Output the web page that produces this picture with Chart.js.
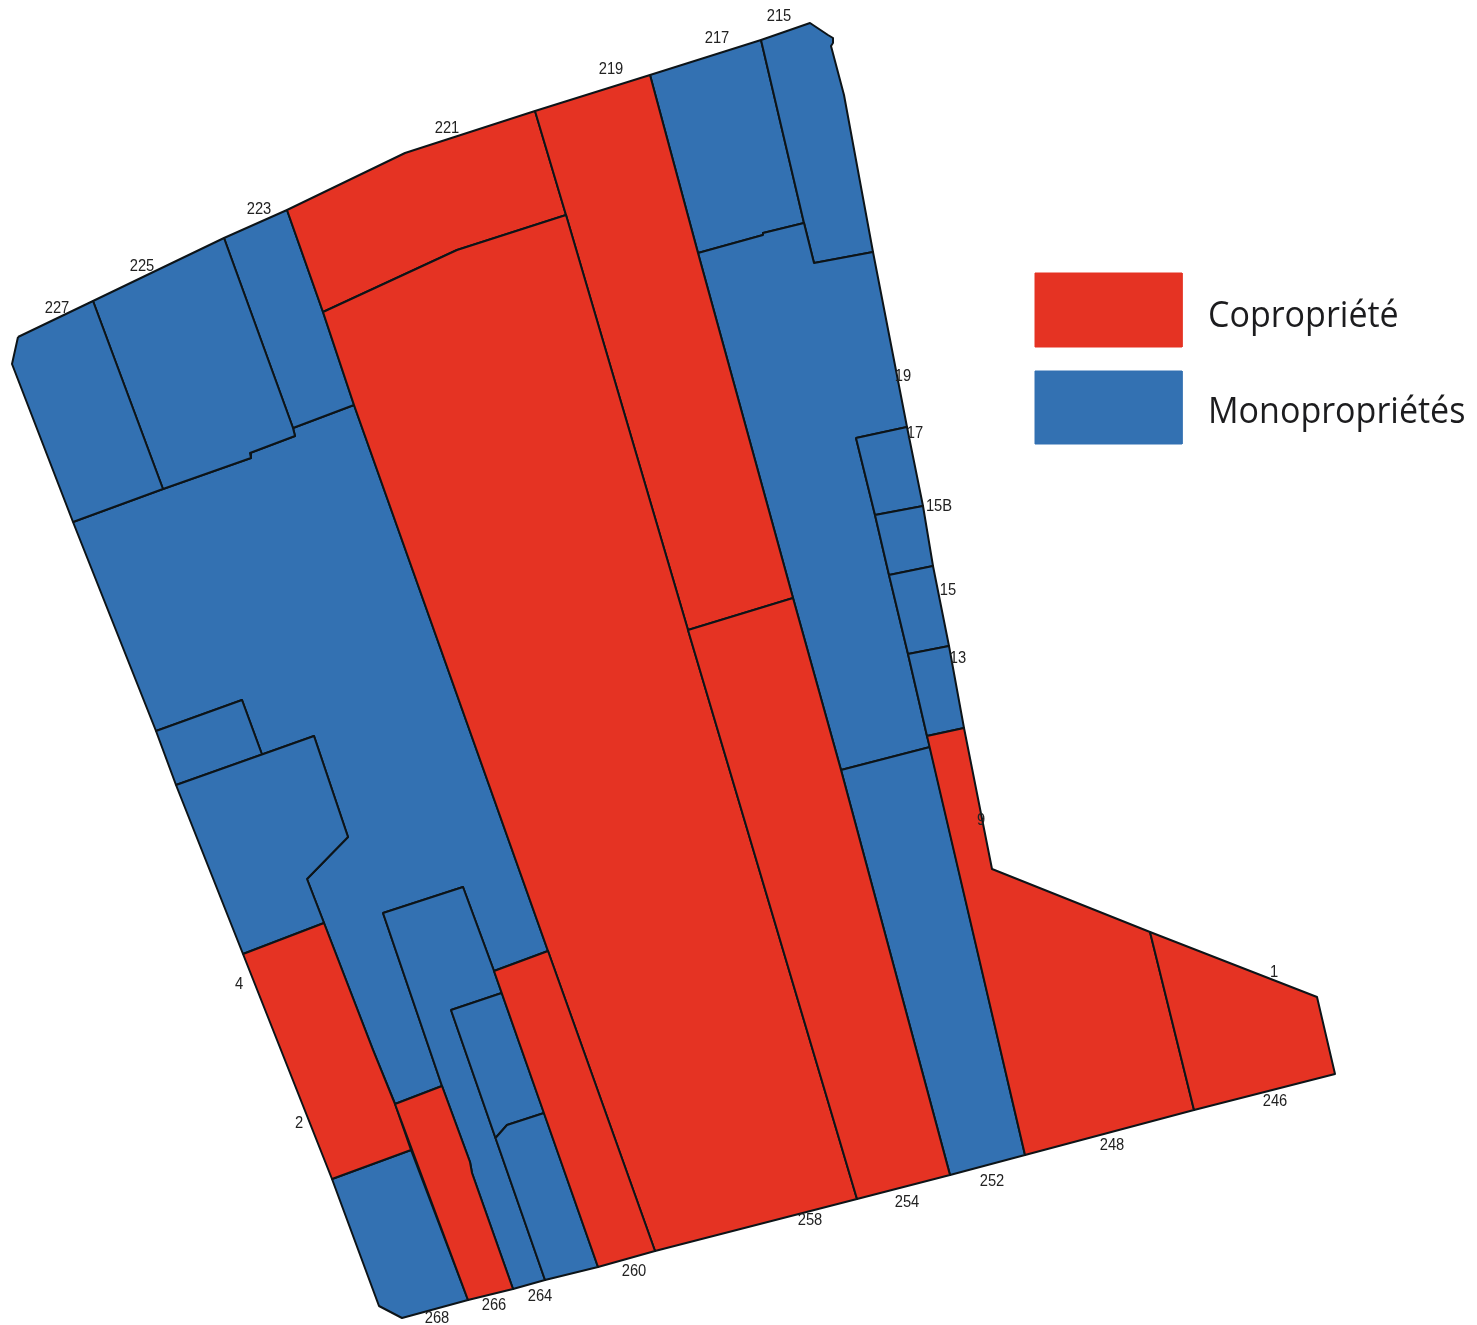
<!DOCTYPE html>
<html lang="fr">
<head>
<meta charset="utf-8">
<title>Copropriété et monopropriétés</title>
<script src="https://cdn.jsdelivr.net/npm/chart.js@4"></script>
<style>
html,body{margin:0;padding:0;background:#fff;overflow:hidden}
canvas{display:block}
</style>
</head>
<body>
<canvas id="map" width="1477" height="1325"></canvas>
<script>
// Parcels, in map units; tenure: C = copropriété, M = monopropriétés
const p215 = [[761,40],[810,23],[828,35],[833,38],[833,43],[831,46],[844,95],[873,252],[814,263],[804,223]];
const p217 = [[650,75],[761,40],[804,223],[763,233],[763,235],[698,253]];
const p219 = [[535,111],[650,75],[698,253],[793,598],[688,630],[566,215]];
const p221 = [[287,210],[405,153],[535,111],[566,215],[457,250],[323,312]];
const p223 = [[224,238],[287,210],[323,312],[354,405],[293,428]];
const p225 = [[93,301],[224,238],[293,428],[295,436],[250,453],[251,458],[163,489]];
const p227 = [[18,337],[93,301],[163,489],[73,522],[12,364]];
const p258 = [[323,312],[457,250],[566,215],[688,630],[857,1199],[655,1251],[548,951],[354,405]];
const p254 = [[688,630],[793,598],[841,770],[950,1175],[857,1199]];
const p19  = [[698,253],[763,235],[763,233],[804,223],[814,263],[873,252],[907,427],[856,438],[875,515],[889,575],[908,654],[927,736],[930,747],[841,770],[793,598]];
const p17  = [[856,438],[907,427],[923,506],[875,515]];
const p15B = [[875,515],[923,506],[933,566],[889,575]];
const p15  = [[889,575],[933,566],[949,646],[908,654]];
const p13  = [[908,654],[949,646],[964,728],[927,736]];
const p252 = [[841,770],[930,747],[1025,1155],[950,1175]];
const p248 = [[927,736],[964,728],[992,869],[1150,932],[1194,1110],[1025,1155]];
const p246 = [[1150,932],[1317,997],[1335,1074],[1194,1110]];
const pMain = [[73,522],[163,489],[251,458],[250,453],[295,436],[293,428],[354,405],[548,951],[494,971],[463,887],[383,913],[442,1086],[395,1104],[373,1050],[324,923],[307,879],[348,837],[314,736],[262,754.5],[242,700],[156,731]];
const pSmall = [[156,731],[242,700],[262,754.5],[176,785]];
const pYard = [[176,785],[314,736],[348,837],[307,879],[324,923],[243,954]];
const p4 = [[243,954],[324,923],[373,1050],[395,1104],[411,1150],[332,1179]];
const p268 = [[332,1179],[411,1150],[468,1300],[402,1318],[379,1306]];
const p266 = [[395,1104],[442,1086],[470,1162],[472,1173],[513,1289],[468,1300]];
const p264a = [[383,913],[463,887],[494,971],[501.7,993],[451,1010],[495.5,1138],[545,1280],[513,1289],[472,1173],[470,1162],[442,1086]];
const p264b = [[451,1010],[501.7,993],[544,1113],[507,1125],[495.5,1138]];
const p264c = [[495.5,1138],[507,1125],[544,1113],[598,1267],[545,1280]];
const p260 = [[494,971],[548,951],[655,1251],[598,1267]];

const parcelList = [pMain,pSmall,pYard,p223,p225,p227,p217,p215,p19,p17,p15B,p15,p13,p252,p268,p264a,p264b,p264c,
                    p221,p219,p258,p254,p248,p246,p4,p266,p260];
const parcelTenure = ['M','M','M','M','M','M','M','M','M','M','M','M','M','M','M','M','M','M',
                      'C','C','C','C','C','C','C','C','C'];

// House numbers
const numberTexts = ['215','217','219','221','223','225','227','19','17','15B','15','13','9','1','246','248','252','254','258','260','264','266','268','4','2'];
const numberX = [779,717,611,447,259,142,57,903,915,939,948,958,981,1274,1275,1112,992,907,810,634,540,494,437,239,299];
const numberY = [17,39,70,129,210,267,309,377,434,507,591,659,821,973,1102,1146,1182,1203,1221,1272,1297,1306,1319,985,1124];

// Legend
const legendNames = ['Copropriété','Monopropriétés'];
const legendTenure = ['C','M'];
const legendBoxes = [[[1035,273],[1182,273],[1182,347],[1035,347]],[[1035,371],[1182,371],[1182,444],[1035,444]]];
const legendTextAnchor = [[1208,317],[1208,413]];

const tenureColor = {C:'#E53323', M:'#3371B2'};

const toPoints = poly => poly.concat([poly[0]]).map(([x,y]) => ({x,y}));

const datasets = parcelList.map((poly,i) => ({
  data: toPoints(poly), showLine:true, fill:'shape', tension:0, order: parcelList.length - i,
  backgroundColor: tenureColor[parcelTenure[i]], borderColor:'#0d1418', borderWidth:2,
  borderJoinStyle:'round', pointRadius:0, pointHoverRadius:0
}));
legendBoxes.forEach((poly,i) => datasets.push({
  data: toPoints(poly), showLine:true, fill:'shape', tension:0, order:-1,
  backgroundColor: tenureColor[legendTenure[i]], borderColor: tenureColor[legendTenure[i]], borderWidth:1,
  borderJoinStyle:'miter', pointRadius:0, pointHoverRadius:0
}));

const textPlugin = {
  id:'mapText',
  afterDatasetsDraw(chart){
    const {ctx,scales:{x,y}} = chart;
    ctx.save();
    ctx.fillStyle='#222';
    ctx.font='16px "Liberation Sans"';
    ctx.textAlign='center'; ctx.textBaseline='middle';
    numberTexts.forEach((t,i)=>{
      const px=x.getPixelForValue(numberX[i]), py=y.getPixelForValue(numberY[i]);
      ctx.save(); ctx.translate(px,py); ctx.scale(0.92,1); ctx.fillText(t,0,0); ctx.restore();
    });
    ctx.fillStyle='#1c1c1e';
    ctx.font='36px "Open Sans"';
    ctx.textAlign='left';
    legendNames.forEach((t,i)=>{
      const px=x.getPixelForValue(legendTextAnchor[i][0]), py=y.getPixelForValue(legendTextAnchor[i][1]);
      ctx.save(); ctx.translate(px,py); ctx.scale(0.945,1); ctx.fillText(t,0,0); ctx.restore();
    });
    ctx.restore();
  }
};

new Chart(document.getElementById('map'),{
  type:'scatter',
  data:{datasets},
  plugins:[textPlugin],
  options:{
    responsive:false, animation:false, events:[],
    layout:{padding:0},
    plugins:{legend:{display:false},tooltip:{enabled:false},title:{display:false}},
    scales:{
      x:{type:'linear',display:false,min:0,max:1477},
      y:{type:'linear',display:false,min:0,max:1325,reverse:true}
    }
  }
});
</script>
</body>
</html>
